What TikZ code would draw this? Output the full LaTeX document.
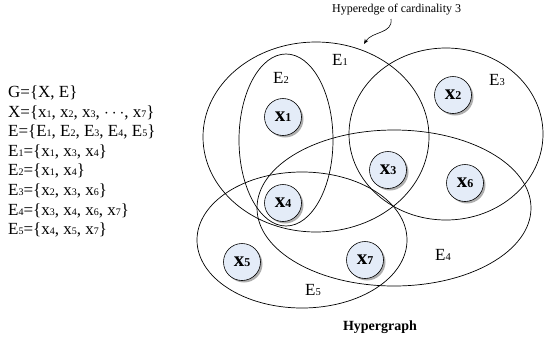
\documentclass[tikz,border=0pt]{standalone}
\usepackage{fontspec}
\setmainfont{Liberation Serif}
\usetikzlibrary{shadows,arrows.meta}
\definecolor{nodefill}{RGB}{228,236,248}
\newcommand\dg[1]{{\fontsize{10}{10}\selectfont #1}}
\newcommand\ed[1]{{\fontsize{17}{17}\selectfont E{\fontsize{10.5}{10.5}\selectfont #1}}}
\newcommand\nx[1]{{\bfseries\fontsize{21}{21}\selectfont x{\fontsize{12}{12}\selectfont #1}}}
\tikzset{
  vtx/.style={circle, draw=black, line width=0.6pt, fill=nodefill, minimum size=37pt, inner sep=0pt,
    drop shadow={shadow xshift=2pt, shadow yshift=-2pt, fill=black!45, opacity=0.7}},
  edge/.style={draw=black, line width=0.7pt},
  eqline/.style={anchor=west, inner sep=0pt, font=\fontsize{17}{17}\selectfont},
  elab/.style={inner sep=0pt},
}
\begin{document}
\begin{tikzpicture}[x=1pt,y=-1pt]
\useasboundingbox (0,0) rectangle (544,341);
% hyperedges
\draw[edge] (316,137) ellipse [x radius=113pt, y radius=95pt];
\draw[edge] (286,140) ellipse [x radius=47pt, y radius=86pt];
\draw[edge] (446,134) ellipse [x radius=97pt, y radius=86pt];
\draw[edge] (394,208) ellipse [x radius=137pt, y radius=78pt];
\draw[edge] (302,240) ellipse [x radius=105pt, y radius=68pt];
% vertices
\node[vtx] (x1) at (283,117) {\nx{1}};
\node[vtx] (x2) at (453,95) {\nx{2}};
\node[vtx] (x3) at (388,170) {\nx{3}};
\node[vtx] (x4) at (283,203) {\nx{4}};
\node[vtx] (x5) at (242,262) {\nx{5}};
\node[vtx] (x6) at (465,183) {\nx{6}};
\node[vtx] (x7) at (365,260) {\nx{7}};
% edge labels
\node[elab] (e1) at (340,60) {\ed{1}};
\node[elab] (e2) at (281,78) {\ed{2}};
\node[elab] (e3) at (497,80) {\ed{3}};
\node[elab] (e4) at (443,255) {\ed{4}};
\node[elab] (e5) at (313,290) {\ed{5}};
% annotation
\node[inner sep=0pt, anchor=west, font=\fontsize{12}{12}\selectfont] (hyp) at (332,10) {Hyperedge of cardinality 3};
\coordinate (tip) at (364,44);
\draw[line width=0.6pt, -{Stealth[length=5pt,width=4pt]}] (391,19) .. controls (393,34) and (372,31) .. (tip);
\node[inner sep=0pt, font=\bfseries\fontsize{14}{14}\selectfont] (title) at (380,327) {Hypergraph};
% definitions
\node[eqline] (l1) at (8,93) {G=\{X, E\}};
\node[eqline] (l2) at (8,112.6) {X=\{x\dg{1}, x\dg{2}, x\dg{3}, $\cdots$, x\dg{7}\}};
\node[eqline] (l3) at (8,132.2) {E=\{E\dg{1}, E\dg{2}, E\dg{3}, E\dg{4}, E\dg{5}\}};
\node[eqline] (l4) at (8,151.8) {E\dg{1}=\{x\dg{1}, x\dg{3}, x\dg{4}\}};
\node[eqline] (l5) at (8,171.4) {E\dg{2}=\{x\dg{1}, x\dg{4}\}};
\node[eqline] (l6) at (8,191) {E\dg{3}=\{x\dg{2}, x\dg{3}, x\dg{6}\}};
\node[eqline] (l7) at (8,210.6) {E\dg{4}=\{x\dg{3}, x\dg{4}, x\dg{6}, x\dg{7}\}};
\node[eqline] (l8) at (8,230.2) {E\dg{5}=\{x\dg{4}, x\dg{5}, x\dg{7}\}};
\end{tikzpicture}
\end{document}
